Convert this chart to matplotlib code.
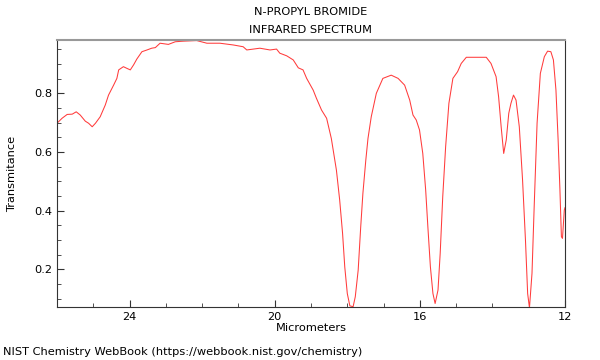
import numpy as np
import matplotlib.pyplot as plt
from matplotlib.ticker import MultipleLocator

# IR spectrum of n-propyl bromide
micrometers = [
    26.00, 25.86, 25.72, 25.58, 25.47, 25.36, 25.22, 25.13, 25.03, 24.94,
    24.81, 24.67, 24.58, 24.44, 24.35, 24.30, 24.17, 24.07, 23.98, 23.89,
    23.80, 23.66, 23.52, 23.39, 23.29, 23.16, 22.93, 22.74, 22.52, 22.15,
    21.87, 21.51, 21.14, 20.87, 20.77, 20.41, 20.13, 19.95, 19.86, 19.67,
    19.49, 19.35, 19.22, 19.12, 18.94, 18.85, 18.71, 18.57, 18.44, 18.30,
    18.21, 18.13, 18.07, 18.00, 17.93, 17.84, 17.78, 17.70, 17.63, 17.57,
    17.49, 17.43, 17.34, 17.20, 17.02, 16.79, 16.60, 16.42, 16.28, 16.19,
    16.10, 16.01, 15.92, 15.84, 15.78, 15.71, 15.64, 15.58, 15.50, 15.44,
    15.37, 15.29, 15.20, 15.09, 14.96, 14.86, 14.72, 14.45, 14.17, 14.04,
    13.90, 13.83, 13.76, 13.69, 13.62, 13.55, 13.49, 13.42, 13.35, 13.26,
    13.17, 13.09, 13.03, 12.98, 12.91, 12.85, 12.77, 12.68, 12.57, 12.48,
    12.39, 12.32, 12.25, 12.19, 12.14, 12.10, 12.07, 12.02, 12.00,
]
transmittance = [
    0.698, 0.715, 0.728, 0.729, 0.737, 0.726, 0.705, 0.698, 0.686, 0.698,
    0.720, 0.760, 0.794, 0.828, 0.851, 0.880, 0.891, 0.885, 0.880, 0.897,
    0.917, 0.942, 0.948, 0.954, 0.956, 0.971, 0.967, 0.976, 0.978, 0.980,
    0.971, 0.971, 0.965, 0.959, 0.948, 0.954, 0.948, 0.951, 0.937, 0.928,
    0.914, 0.887, 0.880, 0.851, 0.811, 0.783, 0.743, 0.715, 0.646, 0.538,
    0.436, 0.322, 0.208, 0.117, 0.075, 0.072, 0.106, 0.197, 0.345, 0.459,
    0.572, 0.646, 0.720, 0.800, 0.851, 0.862, 0.851, 0.828, 0.777, 0.726,
    0.709, 0.675, 0.595, 0.470, 0.345, 0.208, 0.117, 0.083, 0.129, 0.254,
    0.447, 0.618, 0.766, 0.851, 0.874, 0.902, 0.923, 0.923, 0.923, 0.902,
    0.857, 0.788, 0.686, 0.595, 0.641, 0.732, 0.766, 0.794, 0.777, 0.686,
    0.504, 0.299, 0.117, 0.068, 0.186, 0.413, 0.698, 0.868, 0.925, 0.944,
    0.942, 0.914, 0.811, 0.641, 0.470, 0.311, 0.305, 0.402, 0.410,
]

x_major = [24, 20, 16, 12]
y_major = [0.2, 0.4, 0.6, 0.8]

fig = plt.figure(figsize=(6, 3.6), dpi=100)
ax = fig.add_axes([0.095, 0.1472, 0.8467, 0.7417])

ax.plot(micrometers, transmittance, color='#ff3b3b', linewidth=0.75)

ax.set_xlim(26, 12)
ax.set_ylim(0.071, 0.982)
ax.set_xticks(x_major)
ax.set_yticks(y_major)
ax.set_xticklabels([str(v) for v in x_major])
ax.set_yticklabels([f"{v:.1f}" for v in y_major])
ax.xaxis.set_minor_locator(MultipleLocator(1))
ax.yaxis.set_minor_locator(MultipleLocator(0.05))
ax.tick_params(which='both', direction='in', labelsize=8.2, color='#333333')
ax.tick_params(which='major', length=5)
ax.tick_params(which='minor', length=3)

ax.spines['top'].set_color('#999999')
ax.spines['top'].set_linewidth(1.5)
for side in ['left', 'bottom', 'right']:
    ax.spines[side].set_color('#333333')

ax.set_xlabel("Micrometers", fontsize=8.2, labelpad=1)
ax.set_ylabel("Transmitance", fontsize=8.2, labelpad=12)

fig.text(0.518, 1 - 12 / 360, "N-PROPYL BROMIDE", fontsize=8.2, ha='center', va='center')
fig.text(0.518, 1 - 30 / 360, "INFRARED SPECTRUM", fontsize=8.2, ha='center', va='center')

fig.text(0.005, 1 - 352 / 360, "NIST Chemistry WebBook (https://webbook.nist.gov/chemistry)",
         fontsize=8.2, ha='left', va='center')

fig.savefig("out.png", dpi=100)
